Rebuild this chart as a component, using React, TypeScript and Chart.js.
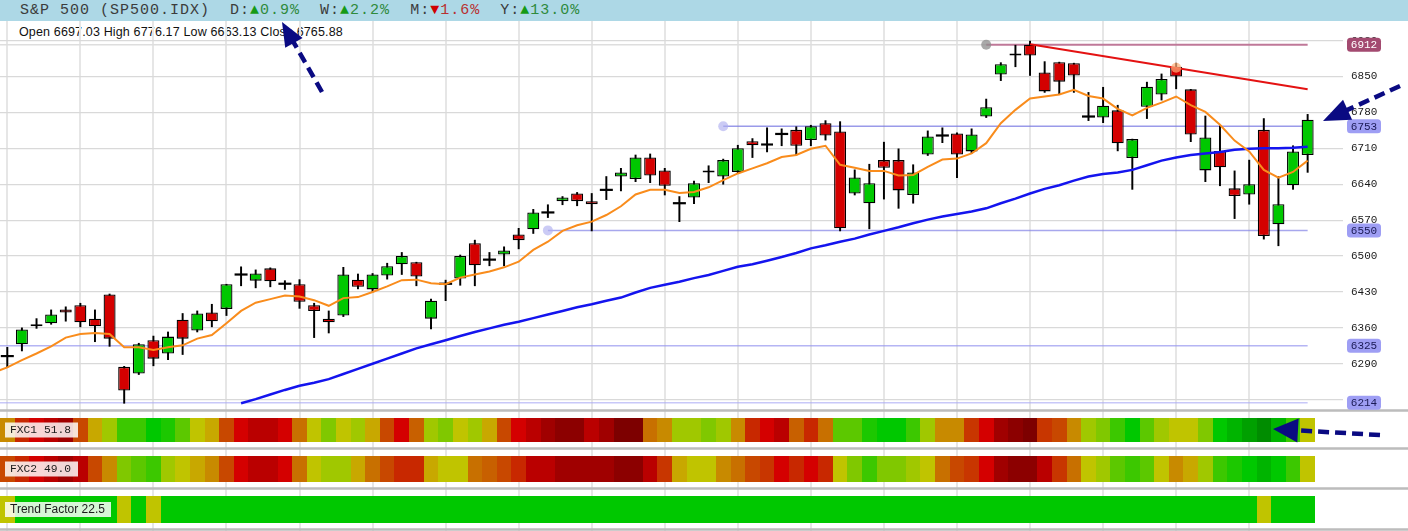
import React, { useEffect, useRef } from 'react';
import { Chart, registerables } from 'chart.js';

Chart.register(...registerables);

// ---------- DATA ----------
const OPEN = [
  6305, 6328, 6367, 6369, 6396, 6404, 6378, 6425, 6284, 6271,
  6336, 6310, 6376, 6355, 6390, 6397, 6464, 6452, 6476, 6446,
  6445, 6404, 6378, 6384, 6454, 6435, 6462, 6484, 6488, 6378,
  6446, 6456, 6525, 6493, 6503, 6542, 6552, 6585, 6607, 6622,
  6607, 6629, 6655, 6650, 6692, 6667, 6603, 6614, 6667, 6655,
  6664, 6724, 6720, 6738, 6746, 6726, 6759, 6743, 6622, 6603,
  6687, 6687, 6619, 6698, 6735, 6739, 6704, 6772, 6854, 6895,
  6912, 6858, 6878, 6876, 6772, 6770, 6784, 6691, 6791, 6815,
  6869, 6825, 6667, 6705, 6632, 6620, 6746, 6562, 6638, 6697.03,
];
const HIGH = [
  6322, 6360, 6378, 6395, 6401, 6408, 6395, 6426, 6285, 6330,
  6344, 6352, 6388, 6393, 6406, 6445, 6479, 6473, 6477, 6452,
  6454, 6408, 6393, 6478, 6465, 6466, 6486, 6507, 6488, 6416,
  6453, 6502, 6531, 6507, 6518, 6554, 6591, 6600, 6616, 6624,
  6622, 6655, 6671, 6697, 6699, 6671, 6616, 6646, 6676, 6689,
  6716, 6729, 6750, 6748, 6752, 6755, 6764, 6762, 6668, 6679,
  6722, 6709, 6678, 6744, 6750, 6740, 6748, 6806, 6877, 6911,
  6919, 6879, 6878, 6876, 6819, 6829, 6794, 6728, 6839, 6855,
  6876, 6825, 6773, 6754, 6666, 6687, 6768, 6655, 6715, 6776.17,
];
const LOW = [
  6283, 6315, 6359, 6367, 6373, 6362, 6333, 6324, 6213, 6269,
  6286, 6298, 6308, 6352, 6362, 6384, 6442, 6438, 6440, 6435,
  6398, 6341, 6350, 6382, 6436, 6430, 6455, 6464, 6442, 6358,
  6413, 6443, 6442, 6481, 6481, 6514, 6544, 6575, 6600, 6598,
  6549, 6610, 6627, 6645, 6643, 6619, 6567, 6602, 6643, 6640,
  6661, 6692, 6703, 6715, 6697, 6715, 6726, 6549, 6619, 6553,
  6611, 6593, 6603, 6696, 6721, 6653, 6700, 6770, 6842, 6869,
  6852, 6819, 6816, 6819, 6764, 6760, 6705, 6630, 6768, 6804,
  6826, 6723, 6645, 6637, 6573, 6601, 6533, 6520, 6630, 6663.13,
];
const CLOSE = [
  6305, 6357, 6363, 6386, 6390, 6371, 6363, 6339, 6238, 6328,
  6300, 6343, 6339, 6388, 6373, 6445, 6464, 6466, 6451, 6446,
  6411, 6393, 6371, 6464, 6440, 6464, 6480, 6500, 6460, 6413,
  6446, 6500, 6482, 6493, 6511, 6531, 6585, 6585, 6614, 6607,
  6601, 6629, 6663, 6692, 6657, 6637, 6603, 6642, 6663, 6687,
  6710, 6716, 6715, 6738, 6715, 6753, 6735, 6554, 6653, 6642,
  6672, 6628, 6663, 6733, 6735, 6698, 6737, 6790, 6874, 6891,
  6891, 6821, 6840, 6852, 6772, 6793, 6720, 6728, 6830, 6845,
  6850, 6737, 6731, 6673, 6617, 6640, 6539, 6601, 6704, 6765.88,
];

// fast moving average, first value belongs to the bar before index 0
const MA_FAST_START = -1;
const MA_FAST = [
  6272,
  6283, 6297, 6310, 6324, 6341, 6348, 6350, 6348, 6322, 6322,
  6317, 6322, 6326, 6339, 6346, 6369, 6393, 6409, 6416, 6423,
  6421, 6414, 6403, 6418, 6420, 6430, 6441, 6453, 6454, 6447,
  6445, 6458, 6464, 6470, 6478, 6489, 6512, 6528, 6549, 6560,
  6567, 6580, 6597, 6620, 6629, 6629, 6623, 6625, 6634, 6648,
  6661, 6671, 6681, 6693, 6697, 6709, 6715, 6678, 6672, 6666,
  6666, 6657, 6658, 6674, 6688, 6690, 6700, 6720, 6759, 6785,
  6807, 6811, 6815, 6824, 6812, 6807, 6787, 6774, 6789, 6799,
  6811, 6794, 6781, 6756, 6725, 6704, 6668, 6653, 6664, 6686,
];
// slow moving average, visible from index 16
const MA_SLOW_START = 16;
const MA_SLOW = [
  6213, 6221, 6230, 6239, 6247, 6253, 6260, 6270, 6280, 6290,
  6300, 6310, 6320, 6328, 6336, 6344, 6352, 6359, 6366, 6372,
  6379, 6386, 6393, 6400, 6406, 6413, 6419, 6429, 6438, 6444,
  6450, 6457, 6463, 6471, 6479, 6484, 6491, 6498, 6506, 6515,
  6521, 6528, 6534, 6542, 6549, 6556, 6564, 6571, 6577, 6582,
  6587, 6593, 6603, 6612, 6622, 6631, 6638, 6647, 6655, 6660,
  6663, 6668, 6677, 6686, 6692, 6697, 6700, 6703, 6707, 6709,
  6710, 6710, 6711, 6713,
];

const TREND_IDX = [70, 89];
const TREND_VAL = [6913, 6825];

const LEVELS = [6912, 6753, 6550, 6325, 6214];
const LEVEL_FROM = [67, 49, 37, -1, -1];

const DOT_IDX = [67, 49, 37, 80];
const DOT_VAL = [6912, 6753, 6550, 6867];

const Y_TICKS = [6220, 6290, 6360, 6430, 6500, 6570, 6640, 6710, 6780, 6850, 6920];
const GRID_IDX = [0, 5, 10, 15, 20, 25, 30, 35, 40, 45, 50, 55, 60, 65, 70, 75, 80, 85];

// indicator strips: level index into the red -> green colour ramp (0 = deepest red, 21 = deepest green)
const FXC1 = [
  10, 5, 4, 3, 2, 7, 11, 13, 16, 16, 18, 17, 15, 12, 11, 7, 4, 3, 3, 4, 9, 12, 14, 12,
  13, 11, 7, 4, 8, 13, 14, 12, 13, 11, 7, 4, 3, 2, 1, 1, 3, 2, 0, 0, 9, 10, 13, 13,
  14, 13, 10, 5, 4, 3, 8, 5, 9, 15, 15, 17, 18, 18, 16, 13, 10, 10, 6, 4, 2, 1, 0, 6,
  7, 10, 13, 14, 16, 18, 15, 13, 12, 12, 14, 18, 19, 20, 21, 19, 16, 12,
];
const FXC2 = [
  7, 5, 4, 3, 2, 3, 7, 10, 14, 15, 16, 13, 12, 11, 10, 7, 4, 3, 3, 4, 9, 12, 13, 13,
  11, 9, 7, 5, 5, 11, 12, 12, 9, 8, 7, 5, 3, 3, 2, 2, 2, 2, 1, 1, 3, 6, 11, 12,
  12, 10, 9, 7, 6, 4, 5, 4, 5, 12, 14, 16, 14, 14, 13, 12, 9, 7, 6, 4, 2, 1, 1, 3,
  6, 9, 12, 13, 15, 16, 15, 12, 10, 11, 13, 16, 17, 18, 19, 18, 16, 12,
];
const TREND_FACTOR = [
  12, 18, 18, 18, 18, 18, 18, 18, 12, 18, 12, 18, 18, 18, 18, 18, 18, 18, 18, 18,
  18, 18, 18, 18, 18, 18, 18, 18, 18, 18, 18, 18, 18, 18, 18, 18, 18, 18, 18, 18,
  18, 18, 18, 18, 18, 18, 18, 18, 18, 18, 18, 18, 18, 18, 18, 18, 18, 18, 18, 18,
  18, 18, 18, 18, 18, 18, 18, 18, 18, 18, 18, 18, 18, 18, 18, 18, 18, 18, 18, 18,
  18, 18, 18, 18, 18, 18, 12, 18, 18, 18,
];
const FXC1_VALUE = 51.8;
const FXC2_VALUE = 49.0;
const TREND_FACTOR_VALUE = 22.5;

const TITLE = 'S&P 500 (SP500.IDX)';
const CHANGE_LABELS = ['D', 'W', 'M', 'Y'];
const CHANGE_VALUES = [0.9, 2.2, -1.6, 13.0];

// ---------- STYLE / LAYOUT ----------
const W = 1408;
const H = 531;
const X_MIN = -0.5;
const X_MAX = 91.42;
const Y_MIN = 5964.0;
const Y_MAX = 6958.2;
const PRICE_CLIP = { left: 0, top: 0, right: 0, bottom: -122 };

const RAMP = [
  '#7d0000', '#8c0000', '#a00000', '#ba0000', '#d40000', '#c82800', '#c83600', '#c84800',
  '#c86000', '#c87000', '#c88a00', '#c8a800', '#c0c400', '#a0c800', '#80c800', '#5cc800',
  '#3cc800', '#1cc800', '#00c800', '#00b400', '#00a000', '#008c00',
];
const STRIP_ROWS = [
  { top: 418, h: 24 },
  { top: 456, h: 26 },
  { top: 496, h: 27 },
];
const SEPARATORS = [410.5, 448.5, 488.5, 529.5];
const LEVEL_COLORS = ['#bf7898', 'rgba(120,120,225,0.75)', 'rgba(130,130,230,0.7)', 'rgba(150,150,240,0.7)', 'rgba(170,170,245,0.65)'];
const BADGE_BG = ['#a34a70', '#9e9ef4', '#9e9ef4', '#9e9ef4', '#9e9ef4'];
const BADGE_FG = ['#ffffff', '#1a1a55', '#1a1a55', '#1a1a55', '#1a1a55'];
const DOT_COLORS = ['rgba(140,140,140,0.75)', 'rgba(175,175,240,0.65)', 'rgba(175,175,240,0.65)', 'rgba(255,175,120,0.7)'];
const UP = '#00c800';
const DOWN = '#d40000';
const NAVY = '#0a0a82';

function roundRect(ctx: CanvasRenderingContext2D, x: number, y: number, w: number, h: number, r: number) {
  ctx.beginPath();
  ctx.moveTo(x + r, y);
  ctx.lineTo(x + w - r, y);
  ctx.quadraticCurveTo(x + w, y, x + w, y + r);
  ctx.lineTo(x + w, y + h - r);
  ctx.quadraticCurveTo(x + w, y + h, x + w - r, y + h);
  ctx.lineTo(x + r, y + h);
  ctx.quadraticCurveTo(x, y + h, x, y + h - r);
  ctx.lineTo(x, y + r);
  ctx.quadraticCurveTo(x, y, x + r, y);
  ctx.closePath();
}

function drawArrow(ctx: CanvasRenderingContext2D, tail: number[], tip: number[], headLen: number, halfW: number) {
  const dx = tip[0] - tail[0];
  const dy = tip[1] - tail[1];
  const len = Math.hypot(dx, dy);
  const ux = dx / len;
  const uy = dy / len;
  const bx = tip[0] - ux * headLen;
  const by = tip[1] - uy * headLen;
  ctx.save();
  ctx.strokeStyle = NAVY;
  ctx.fillStyle = NAVY;
  ctx.lineWidth = 4.5;
  ctx.setLineDash([11, 6]);
  ctx.beginPath();
  ctx.moveTo(tail[0], tail[1]);
  ctx.lineTo(bx + ux * 2, by + uy * 2);
  ctx.stroke();
  ctx.setLineDash([]);
  ctx.beginPath();
  ctx.moveTo(tip[0], tip[1]);
  ctx.lineTo(bx - uy * halfW, by + ux * halfW);
  ctx.lineTo(bx + uy * halfW, by - ux * halfW);
  ctx.closePath();
  ctx.fill();
  ctx.restore();
}

const overlayPlugin = {
  id: 'overlay',
  beforeDatasetsDraw(chart: any) {
    const ctx: CanvasRenderingContext2D = chart.ctx;
    const x = chart.scales.x;
    ctx.save();
    [FXC1, FXC2, TREND_FACTOR].forEach((levels, k) => {
      const row = STRIP_ROWS[k];
      levels.forEach((lv, i) => {
        const x0 = Math.round(x.getPixelForValue(i - 0.5));
        const x1 = Math.round(x.getPixelForValue(i + 0.5));
        ctx.fillStyle = RAMP[lv];
        ctx.fillRect(x0, row.top, x1 - x0, row.h);
      });
    });
    ctx.fillStyle = '#bcbcbc';
    SEPARATORS.forEach((y) => ctx.fillRect(0, y - 1.25, chart.width, 2.5));
    ctx.restore();
  },
  afterDraw(chart: any) {
    const ctx: CanvasRenderingContext2D = chart.ctx;
    const y = chart.scales.y;
    ctx.save();
    // price badges
    LEVELS.forEach((v, k) => {
      const py = y.getPixelForValue(v);
      ctx.fillStyle = BADGE_BG[k];
      roundRect(ctx, 1347, py - 7, 34, 14, 3.5);
      ctx.fill();
      ctx.fillStyle = BADGE_FG[k];
      ctx.font = '11px "Liberation Mono", monospace';
      ctx.textAlign = 'center';
      ctx.textBaseline = 'middle';
      ctx.fillText(String(v), 1364, py + 0.5);
    });
    // strip labels
    const labels = [
      { text: `FXC1 ${FXC1_VALUE.toFixed(1)}`, font: '11.3px "Liberation Mono", monospace', w: 73 },
      { text: `FXC2 ${FXC2_VALUE.toFixed(1)}`, font: '11.3px "Liberation Mono", monospace', w: 73 },
      { text: `Trend Factor ${TREND_FACTOR_VALUE.toFixed(1)}`, font: '12px "Liberation Sans", Arial, sans-serif', w: 106 },
    ];
    labels.forEach((lb, k) => {
      const row = STRIP_ROWS[k];
      const cy = row.top + row.h / 2;
      ctx.fillStyle = 'rgba(255,255,255,0.84)';
      ctx.fillRect(5, cy - 7.5, lb.w, 15);
      ctx.fillStyle = '#1a1a1a';
      ctx.font = lb.font;
      ctx.textAlign = 'left';
      ctx.textBaseline = 'middle';
      ctx.fillText(lb.text, 10, cy + 0.5);
    });
    ctx.restore();
    // annotation arrows
    drawArrow(ctx, [322, 92], [282, 22], 24, 10);
    drawArrow(ctx, [1400, 86], [1323, 121], 27, 11);
    drawArrow(ctx, [1380, 435], [1273, 429], 25, 12);
  },
};

export default function App() {
  const canvasRef = useRef<HTMLCanvasElement>(null);

  useEffect(() => {
    document.body.style.margin = '0';
    const canvas = canvasRef.current;
    if (!canvas) return;
    const idx = OPEN.map((_, i) => i);
    const last = OPEN.length - 1;
    const bodyColors = idx.map((i) => (CLOSE[i] >= OPEN[i] ? UP : DOWN));
    const dojis = idx.filter((i) => OPEN[i] === CLOSE[i]);

    const datasets: any[] = [];
    LEVELS.forEach((v, k) => {
      datasets.push({
        type: 'line',
        data: [{ x: LEVEL_FROM[k], y: v }, { x: last, y: v }],
        borderColor: LEVEL_COLORS[k],
        borderWidth: k === 0 ? 2 : 1.5,
        pointRadius: 0,
        order: 10,
        clip: PRICE_CLIP,
      });
    });
    datasets.push({
      type: 'line',
      data: [{ x: -1, y: LEVELS[0] }, { x: LEVEL_FROM[0], y: LEVELS[0] }],
      borderColor: '#dedede',
      borderWidth: 1.5,
      pointRadius: 0,
      order: 11,
      clip: PRICE_CLIP,
    });
    datasets.push({
      type: 'bar',
      data: idx.map((i) => ({ x: i, y: [LOW[i], HIGH[i]] })),
      backgroundColor: '#000',
      barThickness: 1.3,
      grouped: false,
      order: 8,
      clip: PRICE_CLIP,
    });
    datasets.push({
      type: 'bar',
      data: idx.map((i) => ({ x: i, y: [OPEN[i], CLOSE[i]] })),
      backgroundColor: bodyColors,
      borderColor: '#000',
      borderWidth: 1.3,
      borderSkipped: false,
      inflateAmount: 0,
      barThickness: 12,
      grouped: false,
      order: 7,
      clip: PRICE_CLIP,
    });
    datasets.push({
      type: 'line',
      data: dojis.map((i) => ({ x: i, y: CLOSE[i] })),
      showLine: false,
      pointStyle: 'line',
      pointRadius: 6.5,
      pointBorderWidth: 2.2,
      pointBorderColor: '#000',
      order: 6,
      clip: PRICE_CLIP,
    });
    datasets.push({
      type: 'line',
      data: MA_SLOW.map((v, k) => ({ x: MA_SLOW_START + k, y: v })),
      borderColor: '#1414ee',
      borderWidth: 2.5,
      pointRadius: 0,
      tension: 0,
      order: 4,
      clip: PRICE_CLIP,
    });
    datasets.push({
      type: 'line',
      data: MA_FAST.map((v, k) => ({ x: MA_FAST_START + k, y: v })),
      borderColor: '#f98c1c',
      borderWidth: 2,
      pointRadius: 0,
      tension: 0,
      order: 3,
      clip: PRICE_CLIP,
    });
    datasets.push({
      type: 'line',
      data: TREND_IDX.map((i, k) => ({ x: i, y: TREND_VAL[k] })),
      borderColor: '#e41212',
      borderWidth: 2,
      pointRadius: 0,
      order: 2,
      clip: PRICE_CLIP,
    });
    datasets.push({
      type: 'line',
      data: DOT_IDX.map((i, k) => ({ x: i, y: DOT_VAL[k] })),
      showLine: false,
      pointRadius: 5,
      pointBorderWidth: 0,
      pointBackgroundColor: DOT_COLORS,
      order: 1,
      clip: PRICE_CLIP,
    });

    const chart = new Chart(canvas, {
      type: 'bar',
      data: { datasets },
      plugins: [overlayPlugin],
      options: {
        responsive: false,
        animation: false,
        devicePixelRatio: 1,
        layout: { autoPadding: false, padding: { top: 21, left: 0, right: 0, bottom: 0 } },
        plugins: { legend: { display: false }, tooltip: { enabled: false } },
        events: [],
        scales: {
          x: {
            type: 'linear',
            min: X_MIN,
            max: X_MAX,
            offset: false,
            afterBuildTicks: (s: any) => {
              s.ticks = GRID_IDX.map((v) => ({ value: v }));
            },
            afterFit: (s: any) => {
              s.height = 0;
              s.paddingLeft = 0;
              s.paddingRight = 0;
            },
            grid: { color: '#e6e6e6', lineWidth: 2, drawTicks: false, offset: false },
            border: { display: false },
            ticks: { display: false },
          },
          y: {
            type: 'linear',
            position: 'right',
            min: Y_MIN,
            max: Y_MAX,
            afterBuildTicks: (s: any) => {
              s.ticks = Y_TICKS.map((v) => ({ value: v }));
            },
            afterFit: (s: any) => {
              s.width = 65;
              s.paddingTop = 0;
              s.paddingBottom = 0;
            },
            grid: { color: '#d9d9d9', lineWidth: 1.2, drawTicks: false },
            border: { display: false },
            ticks: {
              padding: 8,
              color: '#1a1a1a',
              font: { family: '"Liberation Mono", monospace', size: 11 },
              callback: (v: any) => String(v),
            },
          },
        },
      } as any,
    });
    return () => chart.destroy();
  }, []);

  const lastI = OPEN.length - 1;
  const ohlc = `Open ${OPEN[lastI].toFixed(2)} High ${HIGH[lastI].toFixed(2)} Low ${LOW[lastI].toFixed(2)} Close ${CLOSE[lastI].toFixed(2)}`;

  return (
    <div style={{ position: 'relative', width: W, height: H, overflow: 'hidden', background: '#ffffff' }}>
      <div style={{ position: 'absolute', left: 0, top: 0, width: W, height: 21, background: '#add8e6' }} />
      <div
        style={{
          position: 'absolute',
          left: 20,
          top: 2,
          font: '15px "Liberation Mono", monospace',
          letterSpacing: '1px',
          lineHeight: '17px',
          whiteSpace: 'pre',
          color: '#3c3c3c',
        }}
      >
        {TITLE}
        {CHANGE_LABELS.map((lb, k) => {
          const v = CHANGE_VALUES[k];
          const up = v >= 0;
          return (
            <span key={lb}>
              {'  ' + lb + ':'}
              <span style={{ color: up ? '#169a16' : '#d00000' }}>{up ? '▲' : '▼'}</span>
              <span style={{ color: up ? '#2f8a3c' : '#b83030' }}>{Math.abs(v).toFixed(1) + '%'}</span>
            </span>
          );
        })}
      </div>
      <div
        style={{
          position: 'absolute',
          left: 19,
          top: 25,
          font: '12.5px "Liberation Sans", Arial, sans-serif',
          letterSpacing: '0.15px',
          lineHeight: '15px',
          whiteSpace: 'pre',
          color: '#111111',
        }}
      >
        {ohlc}
      </div>
      <canvas
        ref={canvasRef}
        width={W}
        height={H}
        style={{ position: 'absolute', left: 0, top: 0, zIndex: 1 }}
      />
    </div>
  );
}
